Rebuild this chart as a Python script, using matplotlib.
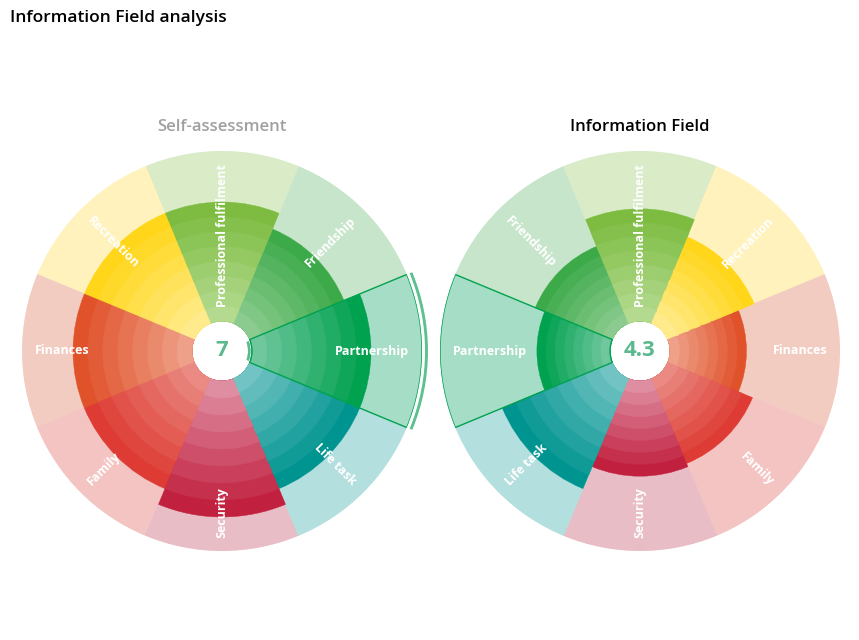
import numpy as np
import matplotlib.pyplot as plt
import matplotlib.colors as mcolors

plt.rcParams['font.family'] = ['Open Sans', 'DejaVu Sans']

# sectors and their colours (outer/dark, inner/light, background)
categories = ["Partnership", "Friendship", "Professional fulfilment", "Recreation",
              "Finances", "Family", "Security", "Life task"]
dark = ["#00a14f", "#3daa4a", "#7dbc41", "#ffd619", "#e0522a", "#dd3b33", "#c1203f", "#009490"]
light = ["#70c79d", "#8bcb8f", "#b3da8f", "#ffeb8c", "#eea088", "#ea8a82", "#df8ea1", "#72c3c3"]
back = ["#a6ddc6", "#c7e5ca", "#d9ebc7", "#fff2bd", "#f3ccc1", "#f3c4c1", "#e9bdc6", "#b3dfde"]

# angle of each sector centre (degrees) in the two wheels
angles_self = [0, 45, 90, 135, 180, 225, 270, 315]
angles_info = [180, 135, 90, 45, 0, 315, 270, 225]

values_self = [7, 6, 7, 7, 7, 7, 8, 7]
values_info = [4.3, 4.9, 6.6, 5.5, 4.5, 5.4, 5.6, 7.0]

center_self = "7"
center_info = "4.3"
selected = "Partnership"

R0 = 30 / 17.0   # hole radius in value units
RMAX = 10
NBANDS = 8


def wheel(fig, rect, angles, values, title, title_color, center_txt, marker):
    ax = fig.add_axes(rect, projection="polar")
    ax.set_ylim(-R0, RMAX)
    ax.axis("off")
    th = np.deg2rad(angles)
    w = np.deg2rad(45)

    # background wedges
    ax.bar(th, RMAX, width=w, bottom=0, color=back, edgecolor=back, linewidth=0.6, zorder=1)

    # gradient bands, drawn outer first so they overlap without seams
    vals = np.array(values)
    for k in range(NBANDS - 1, -1, -1):
        t = k / (NBANDS - 1)
        cols = []
        for i in range(len(values)):
            c1 = np.array(mcolors.to_rgb(light[i]))
            c2 = np.array(mcolors.to_rgb(dark[i]))
            cols.append(c1 + (c2 - c1) * t)
        ax.bar(th, vals * (k + 1) / NBANDS, width=w, bottom=0, color=cols,
               edgecolor=cols, linewidth=0.3, zorder=2)

    # selected sector outline
    i = categories.index(selected)
    ax.bar(th[i], RMAX, width=w, bottom=0, fill=False, edgecolor=dark[i], linewidth=1, zorder=3)
    if marker:
        ax.bar(th[i], 0.17, width=w, bottom=10.18, color="#5cc08f", linewidth=0,
               zorder=3, clip_on=False)
        ax.bar(th[i], 0.16, width=w * 0.9, bottom=-0.24, color="#5cb98f", linewidth=0, zorder=5)

    # labels
    for a, name in zip(angles, categories):
        a2 = (a + 180) % 360 - 180
        if -90 < a2 <= 90:
            rot, ha = a2, "right"
        else:
            rot, ha = a2 - 180, "left"
        ax.text(np.deg2rad(a), 9.24, name, rotation=rot, rotation_mode="anchor",
                ha=ha, va="center", color="white", fontsize=9, fontweight="bold", zorder=6)

    ax.text(0.5, 0.5, center_txt, transform=ax.transAxes, ha="center", va="center",
            fontsize=16, fontweight="bold", color="#5cb98f", zorder=6)
    ax.text(0.5, 1.06, title, transform=ax.transAxes, ha="center", va="center",
            fontsize=12, fontweight="semibold", color=title_color)
    return ax


fig = plt.figure(figsize=(8.59, 6.4), dpi=100, facecolor="white")
W, H = 859.0, 640.0
wheel(fig, [22 / W, 89 / H, 400 / W, 400 / H], angles_self, values_self,
      "Self-assessment", "#a0a0a0", center_self, True)
wheel(fig, [440 / W, 89 / H, 400 / W, 400 / H], angles_info, values_info,
      "Information Field", "black", center_info, False)

fig.text(10 / W, 1 - 18 / H, "Information Field analysis", ha="left", va="center",
         fontsize=12.5, fontweight="semibold", color="black")

fig.savefig("out.png", dpi=100, facecolor="white")
